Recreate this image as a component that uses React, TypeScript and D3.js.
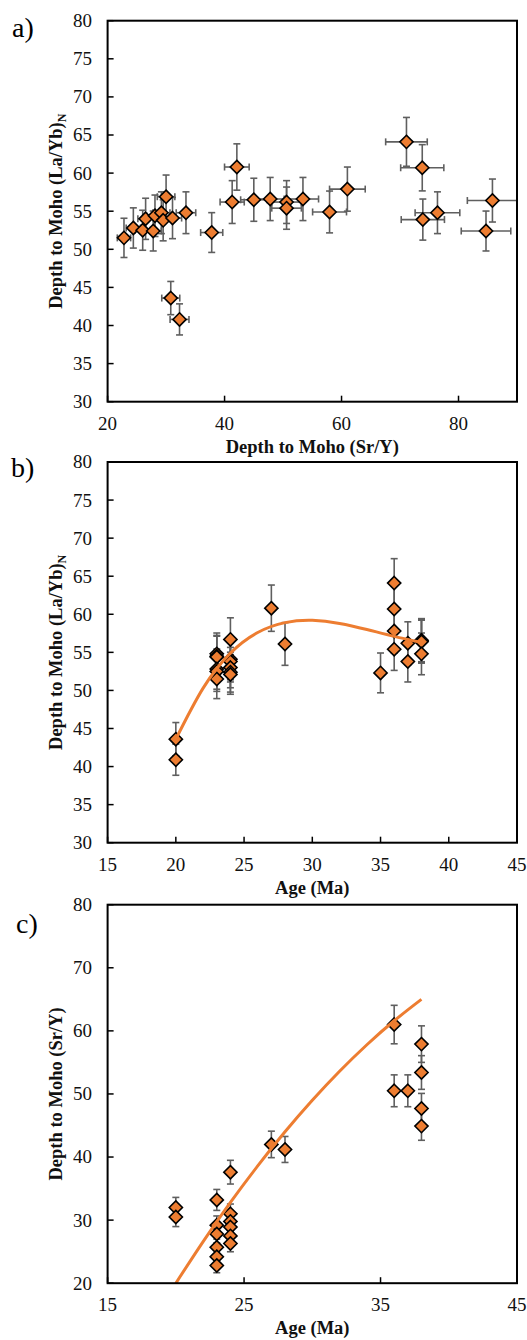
import React from "react";
import * as d3 from "d3";

// ---------- DATA ----------
// Panel a: Depth to Moho from Sr/Y (x) vs from (La/Yb)N (y)
const aSrY = [22.8, 24.4, 26.0, 26.5, 27.8, 28.1, 29.2, 29.5, 31.1, 30.0, 33.4, 37.8, 41.3, 42.1, 45.0, 47.8, 50.6, 50.6, 53.4, 57.95, 61.0, 71.1, 73.8, 73.9, 76.4, 85.8, 84.7, 30.8, 32.3];
const aLaYb = [51.5, 52.8, 52.5, 54.0, 52.4, 54.4, 54.8, 53.8, 54.1, 56.9, 54.8, 52.2, 56.2, 60.8, 56.5, 56.6, 56.2, 55.4, 56.6, 54.9, 57.9, 64.1, 60.7, 53.9, 54.8, 56.4, 52.4, 43.6, 40.8];

// Panel b: Age vs (La/Yb)N depth
const bAge = [20, 20, 23, 23, 23, 23, 23, 23, 24, 24, 24, 24, 24, 24, 27, 28, 35, 36, 36, 36, 36, 37, 37, 38, 38, 38, 38];
const bLaYb = [43.6, 40.9, 54.8, 54.5, 54.4, 52.8, 52.5, 51.5, 56.7, 54.1, 53.8, 53.0, 52.4, 52.1, 60.8, 56.1, 52.3, 64.1, 60.7, 57.8, 55.4, 56.2, 53.8, 56.5, 56.6, 56.4, 54.8];
const bTrendAge = [20, 22, 24, 26, 28, 30, 32, 34, 36, 38];
const bTrendVal = [43.6, 50.3, 54.9, 57.6, 58.9, 59.2, 58.8, 58.0, 57.1, 56.3];

// Panel c: Age vs Sr/Y depth
const cAge = [20, 20, 23, 23, 23, 23, 23, 23, 24, 24, 24, 24, 24, 24, 27, 28, 36, 36, 37, 38, 38, 38, 38];
const cSrY = [32.0, 30.5, 33.2, 29.2, 27.8, 25.7, 24.2, 22.8, 37.6, 31.0, 29.8, 28.9, 27.5, 26.3, 42.0, 41.2, 61.0, 50.5, 50.5, 57.9, 53.4, 47.7, 44.9];
const cTrendAge = [20, 22, 24, 26, 28, 30, 32, 34, 36, 38];
const cTrendVal = [20.0, 26.6, 32.8, 38.6, 44.0, 49.0, 53.6, 57.8, 61.6, 65.0];

// tick values
const aXTicks = [20, 40, 60, 80];
const aYTicks = [30, 35, 40, 45, 50, 55, 60, 65, 70, 75, 80];
const bXTicks = [15, 20, 25, 30, 35, 40, 45];
const bYTicks = [30, 35, 40, 45, 50, 55, 60, 65, 70, 75, 80];
const cXTicks = [15, 25, 35, 45];
const cYTicks = [20, 30, 40, 50, 60, 70, 80];

const ERR_PCT = 0.05; // percentage error bars (5%)

// ---------- STYLE ----------
const FONT = "'Liberation Serif', 'Times New Roman', serif";
const ORANGE = "#ED7D31";
const ERR = "#5f5f5f";

type PanelProps = {
  label: string;
  top: number;
  bottom: number;
  xDomain: [number, number];
  yDomain: [number, number];
  xTicks: number[];
  yTicks: number[];
  xs: number[];
  ys: number[];
  xErr: boolean;
  trendX?: number[];
  trendY?: number[];
  xTitle: string;
  yTitle: string;
  ySub?: string;
  labelY: number;
  labelX: number;
};

const LEFT = 107.6;
const RIGHT = 517;

function Panel(p: PanelProps) {
  const x = d3.scaleLinear().domain(p.xDomain).range([LEFT, RIGHT]);
  const y = d3.scaleLinear().domain(p.yDomain).range([p.bottom, p.top]);
  const cap = 3.5;
  const r = 6.6;
  const diamond = `M0,${-r}L${r},0L0,${r}L${-r},0Z`;
  const pts = p.xs.map((v, i) => ({ x: v, y: p.ys[i] }));
  const line =
    p.trendX && p.trendY
      ? d3
          .line<number>()
          .x((_, i) => x(p.trendX![i]))
          .y((d) => y(d))
          .curve(d3.curveNatural)(p.trendY)
      : null;
  const cy = (p.top + p.bottom) / 2;
  const cx = (LEFT + RIGHT) / 2;
  return (
    <g>
      <text x={p.labelX} y={p.labelY} fontFamily={FONT} fontSize={28}>
        {p.label}
      </text>
      {/* ticks (inward) */}
      {p.yTicks.map((t) => (
        <g key={"y" + t}>
          <line x1={LEFT} x2={LEFT + 6} y1={y(t)} y2={y(t)} stroke="#000" strokeWidth={1.5} />
          <text x={92} y={y(t)} dy="0.34em" textAnchor="end" fontFamily={FONT} fontSize={19} fill="#111">
            {t}
          </text>
        </g>
      ))}
      {p.xTicks.map((t) => (
        <g key={"x" + t}>
          <line x1={x(t)} x2={x(t)} y1={p.bottom} y2={p.bottom - 6} stroke="#000" strokeWidth={1.5} />
          <text x={x(t)} y={p.bottom + 28} textAnchor="middle" fontFamily={FONT} fontSize={19} fill="#111">
            {t}
          </text>
        </g>
      ))}
      {/* error bars */}
      {pts.map((d, i) => {
        const e = d.y * ERR_PCT;
        const y1 = y(d.y + e);
        const y2 = y(d.y - e);
        const px = x(d.x);
        const py = y(d.y);
        const ex = d.x * ERR_PCT;
        return (
          <g key={"e" + i} stroke={ERR} strokeWidth={1.6} fill="none">
            <line x1={px} x2={px} y1={y1} y2={y2} />
            <line x1={px - cap} x2={px + cap} y1={y1} y2={y1} />
            <line x1={px - cap} x2={px + cap} y1={y2} y2={y2} />
            {p.xErr && (
              <>
                <line x1={x(d.x - ex)} x2={Math.min(x(d.x + ex), RIGHT)} y1={py} y2={py} />
                <line x1={x(d.x - ex)} x2={x(d.x - ex)} y1={py - cap} y2={py + cap} />
                {x(d.x + ex) <= RIGHT && (
                  <line x1={x(d.x + ex)} x2={x(d.x + ex)} y1={py - cap} y2={py + cap} />
                )}
              </>
            )}
          </g>
        );
      })}
      {/* markers */}
      {pts.map((d, i) => (
        <path
          key={"m" + i}
          d={diamond}
          transform={`translate(${x(d.x)},${y(d.y)})`}
          fill={ORANGE}
          stroke="#000"
          strokeWidth={1.6}
        />
      ))}
      {line && <path d={line} fill="none" stroke={ORANGE} strokeWidth={3} />}
      {/* frame */}
      <rect x={LEFT} y={p.top} width={RIGHT - LEFT} height={p.bottom - p.top} fill="none" stroke="#000" strokeWidth={2} />
      {/* titles */}
      <text x={cx} y={p.bottom + 51} textAnchor="middle" fontFamily={FONT} fontWeight="bold" fontSize={18.5} fill="#111">
        {p.xTitle}
      </text>
      <text
        transform={`translate(62,${cy}) rotate(-90)`}
        textAnchor="middle"
        fontFamily={FONT}
        fontWeight="bold"
        fontSize={18.5}
        fill="#111"
      >
        {p.yTitle}
        {p.ySub && (
          <tspan dy={4} fontSize={12}>
            {p.ySub}
          </tspan>
        )}
      </text>
    </g>
  );
}

export default function App() {
  return (
    <svg
      width={527}
      height={1340}
      style={{ position: "absolute", left: 0, top: 0, background: "#fff" }}
    >
      <rect width={527} height={1340} fill="#fff" />
      <Panel
        label="a)"
        labelX={12}
        labelY={37}
        top={20.7}
        bottom={401.7}
        xDomain={[20, 90]}
        yDomain={[30, 80]}
        xTicks={aXTicks}
        yTicks={aYTicks}
        xs={aSrY}
        ys={aLaYb}
        xErr={true}
        xTitle="Depth to Moho (Sr/Y)"
        yTitle="Depth to Moho (La/Yb)"
        ySub="N"
      />
      <Panel
        label="b)"
        labelX={11}
        labelY={477}
        top={462}
        bottom={842.7}
        xDomain={[15, 45]}
        yDomain={[30, 80]}
        xTicks={bXTicks}
        yTicks={bYTicks}
        xs={bAge}
        ys={bLaYb}
        xErr={false}
        trendX={bTrendAge}
        trendY={bTrendVal}
        xTitle="Age (Ma)"
        yTitle="Depth to Moho (La/Yb)"
        ySub="N"
      />
      <Panel
        label="c)"
        labelX={16}
        labelY={933}
        top={904.7}
        bottom={1283.2}
        xDomain={[15, 45]}
        yDomain={[20, 80]}
        xTicks={cXTicks}
        yTicks={cYTicks}
        xs={cAge}
        ys={cSrY}
        xErr={false}
        trendX={cTrendAge}
        trendY={cTrendVal}
        xTitle="Age (Ma)"
        yTitle="Depth to Moho (Sr/Y)"
      />
    </svg>
  );
}
